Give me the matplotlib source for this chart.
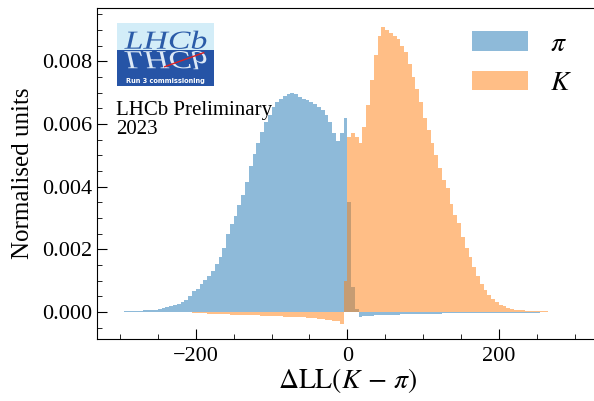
import numpy as np
import matplotlib
matplotlib.use('Agg')
import matplotlib.pyplot as plt
from matplotlib.patches import Rectangle, PathPatch
from matplotlib.textpath import TextPath
from matplotlib.font_manager import FontProperties
from matplotlib.transforms import Affine2D

plt.rcParams['font.family'] = 'Liberation Serif'
plt.rcParams['mathtext.fontset'] = 'stix'

# Histogram bins of Delta LL(K - pi), 5 units wide from -300 to 300
bin_edges = np.linspace(-300, 300, 121)
bin_centers = 0.5 * (bin_edges[:-1] + bin_edges[1:])

# pion sample, normalised units (x 1e-3)
pi_vals = np.array([
    0.01, 0.02, 0.02, 0.03, 0.03, 0.04, 0.05, 0.06, 0.07, 0.08,
    0.10, 0.12, 0.15, 0.18, 0.22, 0.27, 0.33, 0.40, 0.50, 0.66,
    0.75, 0.88, 1.02, 1.15, 1.32, 1.52, 1.75, 2.05, 2.50, 2.80,
    3.05, 3.40, 3.75, 4.15, 4.65, 5.05, 5.40, 5.75, 6.05, 6.30,
    6.55, 6.70, 6.80, 6.90, 6.95, 7.00, 6.95, 6.85, 6.80, 6.75,
    6.70, 6.65, 6.55, 6.45, 6.30, 6.05, 5.70, 5.45, 5.70, 6.20,
    3.50, 0.80, 0.10, -0.15, -0.14, -0.13, -0.12, -0.11, -0.10, -0.10,
    -0.09, -0.09, -0.08, -0.08, -0.07, -0.07, -0.07, -0.06, -0.06, -0.06,
    -0.05, -0.05, -0.05, -0.05, -0.05, -0.04, -0.04, -0.04, -0.04, -0.04,
    -0.04, -0.04, -0.03, -0.03, -0.03, -0.03, -0.03, -0.03, -0.03, -0.03,
    -0.03, -0.02, -0.02, -0.02, -0.02, -0.02, -0.02, -0.02, -0.02, -0.02,
    -0.02, -0.01, -0.01, -0.01, -0.01, -0.01, -0.01, -0.01, -0.01, -0.01,
]) * 1e-3

# kaon sample, normalised units (x 1e-3)
k_vals = np.array([
    0, 0, 0, 0, 0, 0, 0, 0, 0, 0,
    0, 0, 0, 0, 0, 0, 0, 0, -0.01, -0.02,
    -0.02, -0.03, -0.04, -0.05, -0.05, -0.06, -0.06, -0.07, -0.07, -0.08,
    -0.08, -0.09, -0.09, -0.10, -0.10, -0.11, -0.11, -0.12, -0.12, -0.13,
    -0.13, -0.14, -0.14, -0.15, -0.15, -0.16, -0.16, -0.17, -0.17, -0.18,
    -0.19, -0.20, -0.21, -0.22, -0.24, -0.25, -0.27, -0.30, -0.38, 1.00,
    5.60, 5.70, 5.60, 5.40, 5.90, 6.60, 7.40, 8.20, 8.80, 9.10,
    9.00, 8.90, 8.80, 8.70, 8.50, 8.30, 7.90, 7.50, 7.10, 6.70,
    6.20, 5.80, 5.40, 5.00, 4.60, 4.20, 3.95, 3.45, 3.10, 2.85,
    2.40, 2.05, 1.75, 1.45, 1.15, 0.90, 0.70, 0.55, 0.42, 0.32,
    0.24, 0.18, 0.13, 0.10, 0.08, 0.06, 0.05, 0.04, 0.035, 0.03,
    0.025, 0.02, 0.02, 0.015, 0.015, 0.01, 0.01, 0.01, 0.005, 0.005,
]) * 1e-3

fig = plt.figure(figsize=(5.94, 4.01), dpi=100)
ax = fig.add_axes([97.3 / 594, 1 - 339 / 401, 500 / 594, 331 / 401])

ax.hist(bin_centers, bins=bin_edges, weights=pi_vals, histtype='stepfilled',
        color='tab:blue', alpha=0.5, label=r'$\pi$')
ax.hist(bin_centers, bins=bin_edges, weights=k_vals, histtype='stepfilled',
        color='tab:orange', alpha=0.5, label=r'$K$')

ax.set_xlim(-330, 330)
ax.set_ylim(-0.00086, 0.0097)
ax.spines['right'].set_visible(False)
ax.set_xticks([-200, 0, 200])
ax.set_yticks([0, 0.002, 0.004, 0.006, 0.008])
ax.yaxis.set_major_formatter(matplotlib.ticker.FormatStrFormatter('%.3f'))
ax.minorticks_on()
ax.tick_params(which='both', direction='in', labelsize=16)
ax.tick_params(axis='x', which='both', pad=6)
ax.tick_params(which='major', length=7)
ax.tick_params(which='minor', length=3.5)
ax.set_xlabel(r'$\Delta\mathrm{LL}(K\,-\,\pi)$', fontsize=20, labelpad=0)
ax.set_ylabel('Normalised units', fontsize=18, labelpad=6)

ax.legend(loc='upper right', fontsize=20, frameon=False, handlelength=2.0,
          bbox_to_anchor=(1.0, 1.005))

ax.text(116 / 594, 1 - 101 / 401, 'LHCb Preliminary\n2023', transform=fig.transFigure,
        fontsize=15, va='top', ha='left', linespacing=1.0)

# LHCb logo, drawn in pixel units
lx = fig.add_axes([116.7 / 594, 1 - 85.7 / 401, 97.3 / 594, 63 / 401])
lx.set_xlim(0, 97.3)
lx.set_ylim(0, 63)
lx.axis('off')
lx.add_patch(Rectangle((0, 35.7), 97.3, 27.3, color='#d3edf8', lw=0))
lx.add_patch(Rectangle((0, 0), 97.3, 35.7, color='#2654a6', lw=0))
fp = FontProperties(family='Liberation Serif', style='italic')
tp = TextPath((0, 0), 'LHCb', size=26, prop=fp)
lx.add_patch(PathPatch(Affine2D().scale(1.3, 1).translate(8, 37).transform_path(tp),
                       color='#2b5ba8', lw=0))
lx.add_patch(PathPatch(Affine2D().scale(1.3, -1).translate(8, 34.5).transform_path(tp),
                       color='#dde9f6', lw=0))
lx.plot([48, 87], [19, 33], color='#e02020', lw=1.0)
lx.text(48.6, 5.2, 'Run 3 commissioning', color='white', fontsize=4.8, fontweight='bold',
        family='DejaVu Sans', ha='center', va='center')

fig.savefig('out.png', dpi=100)
